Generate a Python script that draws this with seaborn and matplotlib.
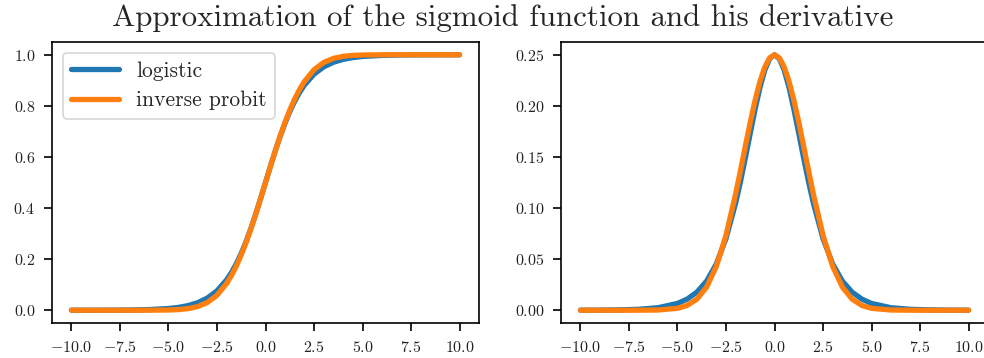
import numpy as np
import pandas as pd
import matplotlib
matplotlib.use("Agg")
import matplotlib.pyplot as plt
import seaborn as sns

# sample positions
x_vals = [-10, -9, -8, -7, -6, -5, -4.5, -4, -3.5, -3, -2.5, -2, -1.75, -1.5,
          -1.25, -1, -0.75, -0.5, -0.25, 0, 0.25, 0.5, 0.75, 1, 1.25, 1.5,
          1.75, 2, 2.5, 3, 3.5, 4, 4.5, 5, 6, 7, 8, 9, 10]

logistic = [0.0000454, 0.0001234, 0.0003354, 0.0009111, 0.0024726, 0.0066929,
            0.0109869, 0.0179862, 0.0293122, 0.0474259, 0.0758582, 0.1192029,
            0.1480472, 0.1824255, 0.2227001, 0.2689414, 0.3208213, 0.3775407,
            0.4378235, 0.5, 0.5621765, 0.6224593, 0.6791787, 0.7310586,
            0.7772999, 0.8175745, 0.8519528, 0.8807971, 0.9241418, 0.9525741,
            0.9706878, 0.9820138, 0.9890131, 0.9933071, 0.9975274, 0.9990889,
            0.9996646, 0.9998766, 0.9999546]

inv_probit = [0.0, 0.0, 0.0000003, 0.0000058, 0.000085, 0.000865, 0.002402,
              0.006095, 0.01414, 0.030056, 0.058597, 0.105047, 0.136397,
              0.173609, 0.216714, 0.265447, 0.319178, 0.377014, 0.437755, 0.5,
              0.562245, 0.622986, 0.680822, 0.734553, 0.783286, 0.826391,
              0.863603, 0.894953, 0.941403, 0.969944, 0.98586, 0.993905,
              0.997598, 0.999135, 0.999915, 0.9999942, 0.9999997, 1.0, 1.0]

d_logistic = [0.0000454, 0.0001234, 0.0003353, 0.0009102, 0.0024665, 0.0066481,
              0.0108662, 0.0176627, 0.028453, 0.0451767, 0.0701037, 0.1049936,
              0.1261293, 0.1491465, 0.1731047, 0.1966119, 0.2178937, 0.2350037,
              0.2461835, 0.25, 0.2461835, 0.2350037, 0.2178937, 0.1966119,
              0.1731047, 0.1491465, 0.1261293, 0.1049936, 0.0701037, 0.0451767,
              0.028453, 0.0176627, 0.0108662, 0.0066481, 0.0024665, 0.0009102,
              0.0003353, 0.0001234, 0.0000454]

d_inv_probit = [0.0, 0.0, 0.000001, 0.0000166, 0.000213, 0.001846, 0.00469,
                0.010804, 0.02256, 0.042705, 0.073283, 0.113984, 0.137021,
                0.16072, 0.183949, 0.205431, 0.223859, 0.238025, 0.246951, 0.25,
                0.246951, 0.238025, 0.223859, 0.205431, 0.183949, 0.16072,
                0.137021, 0.113984, 0.073283, 0.042705, 0.02256, 0.010804,
                0.00469, 0.001846, 0.000213, 0.0000166, 0.000001, 0.0, 0.0]

series_names = ["logistic", "inverse probit"]
title_text = "Approximation of the sigmoid function and his derivative"

sns.set_theme(style="ticks")
plt.rcParams["font.family"] = ["cmr10", "DejaVu Serif"]
plt.rcParams["mathtext.fontset"] = "cm"
plt.rcParams["axes.formatter.use_mathtext"] = True
plt.rcParams["axes.unicode_minus"] = True

df_left = pd.DataFrame({
    "x": x_vals * 2,
    "y": logistic + inv_probit,
    "series": [series_names[0]] * len(x_vals) + [series_names[1]] * len(x_vals),
})
df_right = pd.DataFrame({
    "x": x_vals * 2,
    "y": d_logistic + d_inv_probit,
    "series": [series_names[0]] * len(x_vals) + [series_names[1]] * len(x_vals),
})

palette = {"logistic": "#1f77b4", "inverse probit": "#ff7f0e"}

fig = plt.figure(figsize=(9.84, 3.58), dpi=100)
ax1 = fig.add_axes([52 / 984, 35 / 358, 427 / 984, 281 / 358])
ax2 = fig.add_axes([561 / 984, 35 / 358, 427 / 984, 281 / 358])


def math_fmt(fmt):
    return matplotlib.ticker.FuncFormatter(lambda v, p: "$" + (fmt % v) + "$")


for ax, df in [(ax1, df_left), (ax2, df_right)]:
    sns.lineplot(data=df, x="x", y="y", hue="series", palette=palette,
                 linewidth=3.8, ax=ax, legend=(ax is ax1))
    ax.set_xlabel("")
    ax.set_ylabel("")
    ax.set_xticks([-10, -7.5, -5, -2.5, 0, 2.5, 5, 7.5, 10])
    ax.tick_params(axis="both", labelsize=11.5, length=6, width=1.2, pad=6,
                   color="black", labelcolor="#222222")
    for sp in ax.spines.values():
        sp.set_linewidth(1.2)
        sp.set_color("black")
        sp.set_visible(True)
    ax.margins(x=0.05, y=0.05)
    ax.xaxis.set_major_formatter(math_fmt("%.1f"))

ax1.set_yticks([0.0, 0.2, 0.4, 0.6, 0.8, 1.0])
ax2.set_yticks([0.0, 0.05, 0.10, 0.15, 0.20, 0.25])
ax1.yaxis.set_major_formatter(math_fmt("%.1f"))
ax2.yaxis.set_major_formatter(math_fmt("%.2f"))

leg = ax1.legend(loc="upper left", fontsize=15.5, handlelength=2.2,
                 frameon=True, fancybox=True, borderpad=0.4,
                 labelspacing=0.45, handletextpad=0.8,
                 bbox_to_anchor=(0.0, 1.0))
leg.get_frame().set_edgecolor("#cccccc")
leg.get_frame().set_linewidth(1.2)
for line in leg.get_lines():
    line.set_linewidth(3.8)

fig.text(503 / 984, 1 - 26 / 358, title_text, ha="center", va="baseline",
         fontsize=22.3)

fig.savefig("out.png", dpi=100)
